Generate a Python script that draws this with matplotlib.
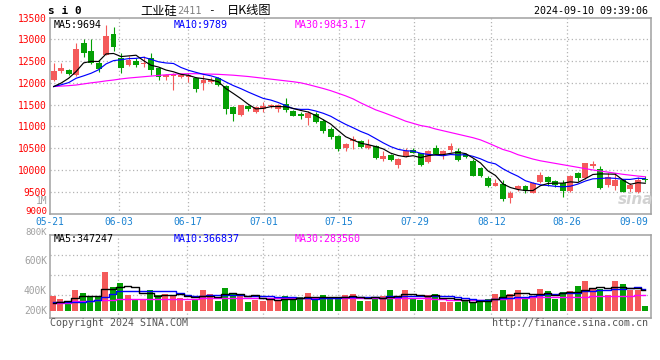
import numpy as np
import pandas as pd
import matplotlib
matplotlib.use("Agg")
import matplotlib.pyplot as plt

# ---------------- data ----------------
dates = ["05-21", "05-22", "05-23", "05-24", "05-27", "05-28", "05-29", "05-30", "05-31",
         "06-03", "06-04", "06-05", "06-06", "06-07", "06-11", "06-12", "06-13", "06-14",
         "06-17", "06-18", "06-19", "06-20", "06-21", "06-24", "06-25", "06-26", "06-27", "06-28",
         "07-01", "07-02", "07-03", "07-04", "07-05", "07-08", "07-09", "07-10", "07-11", "07-12",
         "07-15", "07-16", "07-17", "07-18", "07-19", "07-22", "07-23", "07-24", "07-25", "07-26",
         "07-29", "07-30", "07-31", "08-01", "08-02", "08-05", "08-06", "08-07", "08-08", "08-09",
         "08-12", "08-13", "08-14", "08-15", "08-16", "08-19", "08-20", "08-21", "08-22", "08-23",
         "08-26", "08-27", "08-28", "08-29", "08-30", "09-02", "09-03", "09-04", "09-05", "09-06",
         "09-09", "09-10"]

open_ = [12070, 12275, 12300, 12170, 12910, 12730, 12465, 12640, 13110, 12565,
         12410, 12490, 12430, 12565, 12335, 12130, 12160, 12140, 12130, 12105,
         11995, 12030, 12100, 11930, 11435, 11270, 11460, 11320, 11400, 11460,
         11400, 11520, 11345, 11290, 11190, 11290, 11130, 10950, 10770, 10505,
         10660, 10655, 10505, 10545, 10260, 10350, 10110, 10315, 10465, 10390,
         10180, 10505, 10370, 10465, 10430, 10375, 10215, 10050, 9820, 9630,
         9680, 9360, 9555, 9640, 9475, 9730, 9835, 9740, 9705, 9515,
         9930, 9805, 10100, 10030, 9665, 9630, 9780, 9555, 9500, 9785]
high = [12450, 12465, 12310, 12910, 13000, 13000, 12530, 13330, 13290, 12680,
        12620, 12565, 12620, 12680, 12360, 12210, 12230, 12200, 12220, 12140,
        12180, 12130, 12145, 11950, 11460, 11500, 11500, 11460, 11550, 11520,
        11520, 11650, 11370, 11330, 11350, 11330, 11180, 10990, 10800, 10620,
        10790, 10680, 10710, 10570, 10430, 10370, 10270, 10505, 10500, 10400,
        10460, 10580, 10460, 10620, 10500, 10400, 10240, 10060, 9850, 9800,
        9780, 9510, 9650, 9660, 9720, 9950, 9860, 9770, 9780, 9880,
        9960, 10170, 10200, 10080, 9940, 9935, 9800, 9700, 9830, 9850]
low = [12050, 12220, 12180, 12160, 12600, 12440, 12260, 12630, 12720, 12220,
       12390, 12370, 12370, 12180, 12070, 12070, 11840, 12120, 12030, 11780,
       11840, 11990, 11930, 11285, 11115, 11230, 11360, 11300, 11320, 11430,
       11330, 11340, 11230, 11160, 11040, 11080, 10850, 10720, 10430, 10430,
       10480, 10500, 10490, 10250, 10200, 10200, 10050, 10300, 10380, 10100,
       10150, 10360, 10240, 10410, 10200, 10280, 9850, 9840, 9600, 9620,
       9285, 9250, 9520, 9480, 9460, 9700, 9630, 9610, 9380, 9500,
       9750, 9790, 10050, 9560, 9610, 9550, 9490, 9500, 9480, 9720]
close = [12275, 12340, 12205, 12780, 12690, 12450, 12320, 13080, 12830, 12335,
         12525, 12400, 12460, 12300, 12130, 12180, 12200, 12170, 12180, 11860,
         12070, 12060, 11955, 11400, 11290, 11480, 11405, 11435, 11460, 11490,
         11495, 11365, 11250, 11230, 11310, 11090, 10885, 10750, 10485, 10600,
         10710, 10530, 10575, 10270, 10330, 10225, 10255, 10430, 10395, 10110,
         10445, 10375, 10430, 10545, 10225, 10300, 9870, 9860, 9630, 9705,
         9325, 9460, 9630, 9515, 9705, 9880, 9720, 9665, 9515, 9855,
         9805, 10160, 10140, 9590, 9835, 9780, 9500, 9645, 9780, 9765]

# moving-average values visible before enough in-window closes exist
ma5_head = [11915, 11995, 12105, 12260]
ma10_head = [11915, 11955, 12005, 12105, 12160, 12220, 12300, 12435, 12510]
ma30 = [11915, 11925, 11935, 11950, 11975, 12000, 12020, 12045, 12065, 12090,
        12110, 12125, 12140, 12155, 12170, 12185, 12195, 12205, 12210, 12210,
        12205, 12200, 12195, 12185, 12175, 12160, 12145, 12125, 12105, 12085,
        12065, 12045, 12025, 12000, 11960, 11915, 11870, 11820, 11760, 11700,
        11630, 11540, 11460, 11380, 11320, 11255, 11190, 11120, 11070, 11020,
        10990, 10940, 10900, 10860, 10820, 10780, 10740, 10690, 10620, 10545,
        10470, 10420, 10350, 10300, 10250, 10210, 10180, 10150, 10120, 10090,
        10060, 10030, 10000, 9975, 9950, 9925, 9900, 9880, 9860, 9843]

volume_k = [280, 240, 198, 348, 312, 276, 268, 568, 388, 436,
            292, 236, 236, 352, 292, 304, 280, 256, 220, 244,
            352, 304, 220, 376, 312, 292, 208, 232, 216, 244,
            232, 272, 244, 260, 316, 224, 292, 252, 240, 292,
            304, 220, 220, 260, 276, 348, 276, 348, 252, 228,
            288, 300, 208, 208, 204, 222, 198, 228, 246, 300,
            348, 300, 348, 246, 276, 360, 336, 240, 324, 336,
            396, 456, 372, 366, 288, 456, 420, 348, 348, 156]
vol_ma5_head = [188, 204, 216, 248]
vol_ma10_head = [200, 200, 200, 204, 208, 220, 228, 268, 300]
vol_ma30 = [196, 196, 198, 218, 220, 222, 224, 232, 234, 236,
            236, 236, 237, 237, 238, 238, 238, 240, 244, 246,
            248, 248, 250, 250, 250, 252, 254, 255, 256, 256,
            256, 256, 257, 257, 256, 256, 255, 254, 253, 252,
            252, 252, 252, 251, 251, 250, 250, 250, 249, 248,
            247, 246, 236, 234, 232, 232, 232, 232, 234, 244,
            246, 248, 250, 252, 260, 262, 264, 266, 266, 268,
            268, 270, 276, 278, 280, 280, 282, 282, 286, 284]

tick_dates = ["05-21", "06-03", "06-17", "07-01", "07-15", "07-29", "08-12", "08-26", "09-09"]
price_ticks = [9000, 9500, 10000, 10500, 11000, 11500, 12000, 12500, 13000, 13500]
vol_labels = ["800K", "600K", "400K", "200K"]
price_legend = ["MA5:9694", "MA10:9789", "MA30:9843.17"]
vol_legend = ["MA5:347247", "MA10:366837", "MA30:283560"]

# ---------------- style ----------------
W, H = 660, 360
RED, GREEN = "#f45a5a", "#04a004"
GRID = "#b4b4b4"
SPINE = "#a0a0a0"
MONO = "DejaVu Sans Mono"
MA_COLORS = ["black", "#0000ff", "#ff00ff"]
FS = 6.9


def fx(x):
    return x / W


def fy(y):
    return 1 - y / H


o = np.array(open_, float)
h = np.array(high, float)
l = np.array(low, float)
c = np.array(close, float)
n = len(c)
x = np.arange(n)
colors = [RED if c[i] >= o[i] else GREEN for i in range(n)]

cs = pd.Series(c)
ma5 = cs.rolling(5).mean().to_numpy()
ma5[:len(ma5_head)] = ma5_head
ma10 = cs.rolling(10).mean().to_numpy()
ma10[:len(ma10_head)] = ma10_head

vol = np.array(volume_k, float) * 1000
vs = pd.Series(vol)
vma5 = vs.rolling(5).mean().to_numpy()
vma5[:len(vol_ma5_head)] = np.array(vol_ma5_head) * 1000
vma10 = vs.rolling(10).mean().to_numpy()
vma10[:len(vol_ma10_head)] = np.array(vol_ma10_head) * 1000
vma30 = np.array(vol_ma30, float) * 1000

fig = plt.figure(figsize=(W / 100, H / 100), dpi=100)
fig.patch.set_facecolor("white")

# main price panel
ax = fig.add_axes([fx(50), fy(213.5), fx(600.5), (213.5 - 17.5) / H])
# volume panel
axv = fig.add_axes([fx(50), fy(317.5), fx(600.5), (317.5 - 235) / H])

xlim = (-0.36, 79.7)
grid_pos = [8.71, 17.91, 28.04, 38.04, 48.17, 58.44, 68.57]
label_pos = [-0.49] + grid_pos + [77.5]

for a in (ax, axv):
    a.set_xlim(*xlim)
    for s in a.spines.values():
        s.set_color(SPINE)
        s.set_linewidth(1.1)
    for p in grid_pos:
        a.axvline(p, color=GRID, lw=0.9, ls=(0, (1, 2)), zorder=0)
    a.set_facecolor("white")

# candles
ax.vlines(x, l, h, colors=colors, lw=0.8, zorder=2)
body = np.maximum(np.abs(c - o), 14)
ax.bar(x, body, bottom=np.minimum(o, c), width=0.78, color=colors, linewidth=0, zorder=3)
ax.plot(x, ma30, color=MA_COLORS[2], lw=0.85, zorder=4)
ax.plot(x, ma10, color=MA_COLORS[1], lw=0.85, zorder=5)
ax.plot(x, ma5, color=MA_COLORS[0], lw=0.85, zorder=6)

ax.set_ylim(price_ticks[0], price_ticks[-1])
ax.set_yticks(price_ticks[1:])
ax.set_yticklabels([str(t) for t in price_ticks[1:]])
for t in price_ticks[1:-1]:
    ax.axhline(t, color=GRID, lw=0.9, ls=(0, (1, 2)), zorder=0)
ax.tick_params(axis="y", length=0, pad=2.6, labelcolor="#ff0000", labelsize=FS)
ax.set_xticks(label_pos)
ax.set_xticklabels(tick_dates)
ax.tick_params(axis="x", length=0, pad=2.7, labelcolor="#1a82d2", labelsize=FS)
for lab in ax.get_xticklabels() + ax.get_yticklabels():
    lab.set_fontfamily(MONO)
# bottom price label, nudged to sit just above the date row
fig.text(fx(47.4), fy(211.4), str(price_ticks[0]), ha="right", va="center", color="#ff0000",
         fontsize=6.6, family=MONO)

# volume
vbase = 96000
axv.bar(x, vol - vbase, bottom=vbase, width=0.78, color=colors, linewidth=0, zorder=3)
axv.plot(x, vma30, color=MA_COLORS[2], lw=1.0, drawstyle="steps-mid", zorder=4)
axv.plot(x, vma10, color=MA_COLORS[1], lw=1.0, drawstyle="steps-mid", zorder=5)
axv.plot(x, vma5, color=MA_COLORS[0], lw=1.0, drawstyle="steps-mid", zorder=6)
axv.set_ylim(18000, 1008000)
for t in (288000, 528000, 768000):
    axv.axhline(t, color=GRID, lw=0.9, ls=(0, (1, 2)), zorder=0)
axv.set_xticks([])
axv.set_yticks([])

# texts
fig.text(fx(47), fy(201.5), "1M", ha="right", va="center", color="#a0a0a0",
         fontsize=FS, family=MONO)
for lab, yy, fs in zip(vol_labels, [232.2, 261, 291, 311], [6.5, FS, FS, FS]):
    fig.text(fx(47), fy(yy), lab, ha="right", va="center", color="#a0a0a0",
             fontsize=fs, family=MONO)

for txt, xx, col in zip(price_legend, [54, 174, 295], MA_COLORS):
    fig.text(fx(xx), fy(24.5), txt, ha="left", va="center", color=col, fontsize=7.2, family=MONO)
for txt, xx, col in zip(vol_legend, [54, 174, 295], MA_COLORS):
    fig.text(fx(xx), fy(239), txt, ha="left", va="center", color=col, fontsize=7.2, family=MONO)

fig.text(fx(48), fy(11), "s i 0", ha="left", va="center", color="black", fontsize=8,
         family=MONO, weight="bold")
cjk = ["Noto Sans CJK SC", "DejaVu Sans"]
fig.text(fx(140), fy(10.5), "工业硅", ha="left", va="center", color="black", fontsize=8.8, family=cjk)
fig.text(fx(177), fy(11), "2411", ha="left", va="center", color="#808080", fontsize=7.4, family=MONO)
fig.text(fx(208), fy(10.5), "-", ha="left", va="center", color="black", fontsize=8, family=MONO)
fig.text(fx(227), fy(10.5), "日K线图", ha="left", va="center", color="black", fontsize=8.8, family=cjk)
fig.text(fx(648), fy(11.5), "2024-09-10 09:39:06", ha="right", va="center", color="black",
         fontsize=7.2, family=MONO)

fig.text(fx(50), fy(323.5), "Copyright 2024 SINA.COM", ha="left", va="center", color="#555555",
         fontsize=7.2, family=MONO)
fig.text(fx(648), fy(323.5), "http://finance.sina.com.cn", ha="right", va="center", color="#555555",
         fontsize=7.2, family=MONO)
fig.text(fx(636), fy(200), "sina", ha="center", va="center", color="#d2d2d2", fontsize=11,
         style="italic", weight="bold", family="DejaVu Sans")

fig.savefig("out.png", dpi=100, facecolor="white")
